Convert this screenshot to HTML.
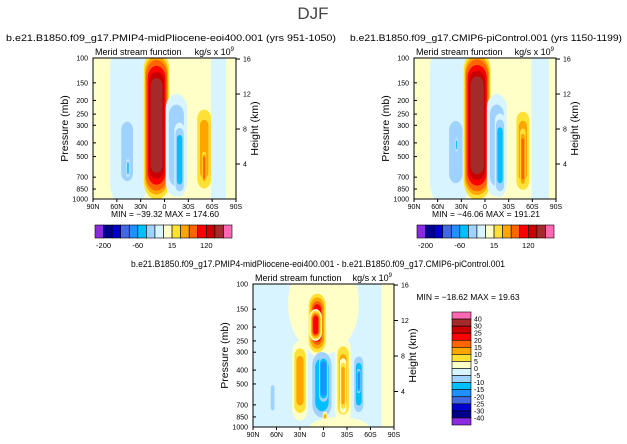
<!DOCTYPE html>
<html><head><meta charset="utf-8"><style>
body{margin:0;background:#fff;}
svg{display:block;font-family:"Liberation Sans",sans-serif;}
</style></head><body>
<svg id="fig" width="627" height="444" viewBox="0 0 627 444">
<text x="313" y="19" text-anchor="middle" font-size="17" fill="#444">DJF</text>
</svg>
<script>
// ---- data ----
const colors=["#8a2be2","#00008b","#0000cd","#4169e1","#1e90ff","#00bfff","#a0d2ff","#d8f4ff","#ffffc8","#ffe135","#ffa500","#ff6400","#ff0000","#c80000","#a52a2a","#ff69b4"];
const levelsTop=[-200,-150,-100,-80,-60,-40,-20,-5,15,40,60,90,120,150,200];
const levelsDiff=[-40,-30,-25,-20,-15,-10,-5,0,5,10,15,20,25,30,40];
const topCbLabels=["-200","-60","15","120"];
const diffCbLabels=["40","30","25","20","15","10","5","0","-5","-10","-15","-20","-25","-30","-40"];
const pTicks=[100,150,200,250,300,400,500,700,850,1000];
const hTicks=[16,12,8,4];
const latTicks=[90,60,30,0,-30,-60,-90];
const latLabels=["90N","60N","30N","0","30S","60S","90S"];
// cells: lat center, lat half-width, top pressure, bottom pressure, peak value
const cellLat1=[45,47,46,10,-15,-19,-50,-50,-68];
const cellHw1=[30,13,2,17,15,7,11,3,12];
const cellTop1=[60,230,520,85,170,280,210,450,60];
const cellBot1=[1500,920,700,1060,1020,990,930,800,1500];
const cellPeak1=[-15,-30,-45,175,-35,-50,50,70,-15];
const cellLat2=[45,37,36,10,-15,-19,-48,-48,-70];
const cellHw2=[32,15,1.5,18,14,7,10,4,14];
const cellTop2=[60,225,370,85,170,240,220,300,60];
const cellBot2=[1500,960,460,1060,1020,1000,940,900,1500];
const cellPeak2=[-15,-30,-45,185,-35,-50,55,70,-15];
const cellLat3=[0,8,10,30,2,0,-25,-25,-45,-45,65,-2,-20,-82];
const cellHw3=[45,13,8,10,16,7,10,4,8,3,4,3,40,8];
const cellTop3=[60,110,150,250,270,300,240,330,290,380,470,780,850,60];
const cellBot3=[310,320,250,900,950,700,930,800,870,600,830,1010,1300,1500];
const cellPeak3=[3,20,22,12,-14,-19,12,14,-12,-16,-8,12,3,3];
const MINMAX=["MIN = −39.32   MAX = 174.60","MIN = −46.06   MAX = 191.21","MIN = −18.62   MAX = 19.63"];
// ---- drawing ----
const NS="http://www.w3.org/2000/svg";
const svg=document.getElementById('fig');
function mk(tag,attrs,parent){const e=document.createElementNS(NS,tag);for(const k in attrs)e.setAttribute(k,attrs[k]);(parent||svg).appendChild(e);return e;}
function idx(v,lev){let i=0;while(i<lev.length&&v>=lev[i])i++;return i;}
function panel(id,x0,y0,w,h,title,tx,ty,tlen,lat,hw,top,bot,peak,lev,bgVal,mm,mmx,mmy){
  const xs=l=>x0+(90-l)/180*w;
  const ys=p=>y0+Math.log(p/100)/Math.log(10)*h;
  const g=mk('g',{});
  
  
  const t=mk('text',{x:tx,y:ty,'font-size':9.5,fill:'#000',textLength:tlen,lengthAdjust:'spacingAndGlyphs'},g);t.textContent=title;
  
  const cp=mk('clipPath',{id:id+'clip'},g);mk('rect',{x:x0,y:y0,width:w,height:h},cp);
  const cg=mk('g',{'clip-path':'url(#'+id+'clip)'},g);
  mk('rect',{x:x0,y:y0,width:w,height:h,fill:colors[idx(bgVal,lev)]},cg);
  for(let c=0;c<lat.length;c++){
    const pk=peak[c];
    const thr=lev.filter(v=>pk>0?(v>bgVal&&v<=pk):(v<=bgVal&&v>pk)).sort((a,b)=>pk>0?a-b:b-a);
    thr.forEach(th=>{
      const frac=Math.max(0.05,1-th/pk);
      const hwp=hw[c]*(0.35+0.65*frac);
      const yt=ys(top[c]),yb=ys(bot[c]);const cy=(yt+yb)/2,hh=(yb-yt)/2*(0.55+0.45*frac);
      const xl=xs(lat[c]+hwp),xr=xs(lat[c]-hwp);
      const r=mk('rect',{x:xl,y:cy-hh,width:xr-xl,height:2*hh,rx:(xr-xl)/2,ry:Math.min(hh,(xr-xl)*0.7),fill:colors[pk>0?idx(th,lev):idx(th,lev)-1]},cg);
      
    });
  }
  mk('rect',{x:x0,y:y0,width:w,height:h,fill:'none',stroke:'#000','stroke-width':1},g);
  const st=mk('text',{x:x0+2,y:y0-3,'font-size':9},g);st.textContent='Merid stream function';
  
  const un=mk('text',{x:x0+w-2,y:y0-3,'font-size':9,'text-anchor':'end'},g);un.innerHTML='kg/s x 10<tspan dy="-4" font-size="6">9</tspan>';
  
  pTicks.forEach(p=>{const y=ys(p);mk('line',{x1:x0,x2:x0+3,y1:y,y2:y,stroke:'#000'},g);
    const tl=mk('text',{x:x0-5,y:y+2.5,'font-size':7,'text-anchor':'end'},g);tl.textContent=p;
    });
  hTicks.forEach(k=>{const p=1000*Math.exp(-k/7);const y=ys(p);mk('line',{x1:x0+w,x2:x0+w+4,y1:y,y2:y,stroke:'#000'},g);
    const tl=mk('text',{x:x0+w+7,y:y+2.5,'font-size':7},g);tl.textContent=k;
    });
  latTicks.forEach((l,i)=>{const x=xs(l);mk('line',{x1:x,x2:x,y1:y0+h,y2:y0+h+3,stroke:'#000'},g);
    const tl=mk('text',{x:x,y:y0+h+10,'font-size':7,'text-anchor':'middle'},g);tl.textContent=latLabels[i];
    });
  const ya=mk('text',{transform:`translate(${x0-25},${y0+h/2}) rotate(-90)`,'font-size':10.5,'text-anchor':'middle'},g);ya.textContent='Pressure (mb)';
  
  const ya2=mk('text',{transform:`translate(${x0+w+22},${y0+h/2}) rotate(-90)`,'font-size':10.5,'text-anchor':'middle'},g);ya2.textContent='Height (km)';
  
  const m=mk('text',{x:mmx,y:mmy,'font-size':8.5,'text-anchor':'middle'},g);m.textContent=mm;
  
}
function hbar(id,x0,y0,w,h){
  const bw=w/colors.length;
  colors.forEach((c,i)=>{const r=mk('rect',{x:x0+i*bw,y:y0,width:bw,height:h,fill:c,stroke:'#000','stroke-width':0.6});
    });
  topCbLabels.forEach((s,j)=>{const t=mk('text',{x:x0+(1+4*j)*bw,y:y0+h+10,'font-size':7.5,'text-anchor':'middle'});t.textContent=s;
    });
}
panel('panel-pliocene',93,58,143,141,'b.e21.B1850.f09_g17.PMIP4-midPliocene-eoi400.001  (yrs 951-1050)',6,41,330,cellLat1,cellHw1,cellTop1,cellBot1,cellPeak1,levelsTop,5,MINMAX[0],165,217);
hbar('colorbar-pliocene',95,225,137,13);
panel('panel-picontrol',414,58,142,141,'b.e21.B1850.f09_g17.CMIP6-piControl.001  (yrs 1150-1199)',350,41,272,cellLat2,cellHw2,cellTop2,cellBot2,cellPeak2,levelsTop,5,MINMAX[1],486,217);
hbar('colorbar-picontrol',417,225,137,13);
panel('panel-difference',253,284,141,143,'b.e21.B1850.f09_g17.PMIP4-midPliocene-eoi400.001 - b.e21.B1850.f09_g17.CMIP6-piControl.001',131,267,374,cellLat3,cellHw3,cellTop3,cellBot3,cellPeak3,levelsDiff,-1,MINMAX[2],468,300);
// vertical colorbar
(function(){const x0=452,y0=312,w=19,h=113,bh=h/colors.length;
  colors.slice().reverse().forEach((c,i)=>{const r=mk('rect',{x:x0,y:y0+i*bh,width:w,height:bh,fill:c,stroke:'#000','stroke-width':0.6});
    });
  diffCbLabels.forEach((s,i)=>{const t=mk('text',{x:x0+w+3,y:y0+(i+1)*bh+2.5,'font-size':7});t.textContent=s;
    });
})();
</script>
</body></html>
